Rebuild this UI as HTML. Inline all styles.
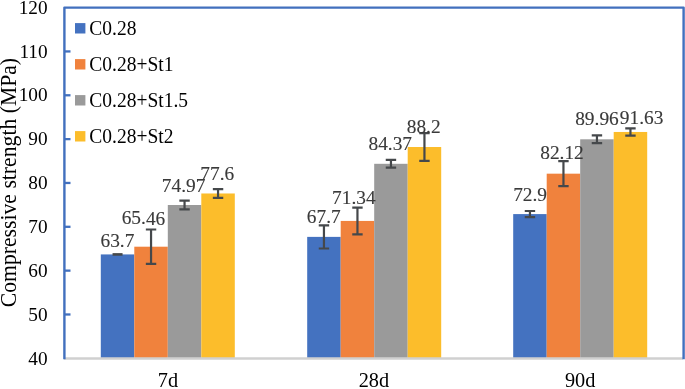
<!DOCTYPE html>
<html><head><meta charset="utf-8"><style>
html,body{margin:0;padding:0;background:#fff;width:685px;height:389px;overflow:hidden;font-family:"Liberation Serif",serif;}
svg{display:block;will-change:transform}
</style></head><body>
<svg width="685" height="389" viewBox="0 0 685 389">
<rect width="685" height="389" fill="#fff"/>
<g id="bars">
<rect x="100.80" y="254.42" width="33.5" height="104.08" fill="#4472C0"/>
<rect x="134.30" y="246.70" width="33.5" height="111.80" fill="#F0823D"/>
<rect x="167.80" y="205.01" width="33.5" height="153.49" fill="#9A9A9A"/>
<rect x="201.30" y="193.48" width="33.5" height="165.02" fill="#FCBD2B"/>
<rect x="307.20" y="236.88" width="33.5" height="121.62" fill="#4472C0"/>
<rect x="340.70" y="220.93" width="33.5" height="137.57" fill="#F0823D"/>
<rect x="374.20" y="163.80" width="33.5" height="194.70" fill="#9A9A9A"/>
<rect x="407.70" y="147.01" width="33.5" height="211.49" fill="#FCBD2B"/>
<rect x="513.20" y="214.09" width="33.5" height="144.41" fill="#4472C0"/>
<rect x="546.70" y="173.67" width="33.5" height="184.83" fill="#F0823D"/>
<rect x="580.20" y="139.30" width="33.5" height="219.20" fill="#9A9A9A"/>
<rect x="613.70" y="131.97" width="33.5" height="226.53" fill="#FCBD2B"/>
</g><g id="err">
<rect x="112.55" y="253.12" width="10" height="2.6" fill="#45484B"/>
<path d="M151.05 229.50V263.90M145.85 229.50H156.25M145.85 263.90H156.25" stroke="#45484B" stroke-width="2.2" fill="none"/>
<path d="M184.55 200.61V209.41M179.35 200.61H189.75M179.35 209.41H189.75" stroke="#45484B" stroke-width="2.2" fill="none"/>
<path d="M218.05 189.08V197.88M212.85 189.08H223.25M212.85 197.88H223.25" stroke="#45484B" stroke-width="2.2" fill="none"/>
<path d="M323.95 225.28V248.48M318.75 225.28H329.15M318.75 248.48H329.15" stroke="#45484B" stroke-width="2.2" fill="none"/>
<path d="M357.45 207.53V234.33M352.25 207.53H362.65M352.25 234.33H362.65" stroke="#45484B" stroke-width="2.2" fill="none"/>
<path d="M390.95 159.90V167.70M385.75 159.90H396.15M385.75 167.70H396.15" stroke="#45484B" stroke-width="2.2" fill="none"/>
<path d="M424.45 133.21V160.81M419.25 133.21H429.65M419.25 160.81H429.65" stroke="#45484B" stroke-width="2.2" fill="none"/>
<path d="M529.95 210.99V217.19M524.75 210.99H535.15M524.75 217.19H535.15" stroke="#45484B" stroke-width="2.2" fill="none"/>
<path d="M563.45 161.17V186.17M558.25 161.17H568.65M558.25 186.17H568.65" stroke="#45484B" stroke-width="2.2" fill="none"/>
<path d="M596.95 135.40V143.20M591.75 135.40H602.15M591.75 143.20H602.15" stroke="#45484B" stroke-width="2.2" fill="none"/>
<path d="M630.45 128.37V135.57M625.25 128.37H635.65M625.25 135.57H635.65" stroke="#45484B" stroke-width="2.2" fill="none"/>
</g><g id="frame">
<path d="M64 358.5H683" stroke="#D0D0D0" stroke-width="2.5"/>
<path d="M64.4 359.2V7.6H683.6V359.2" stroke="#4270BE" stroke-width="2.4" fill="none" stroke-linejoin="round"/>
<path d="M64.5 314.48H70.5" stroke="#4270BE" stroke-width="2.3"/>
<path d="M64.5 270.64H70.5" stroke="#4270BE" stroke-width="2.3"/>
<path d="M64.5 226.80H70.5" stroke="#4270BE" stroke-width="2.3"/>
<path d="M64.5 182.96H70.5" stroke="#4270BE" stroke-width="2.3"/>
<path d="M64.5 139.12H70.5" stroke="#4270BE" stroke-width="2.3"/>
<path d="M64.5 95.28H70.5" stroke="#4270BE" stroke-width="2.3"/>
<path d="M64.5 51.44H70.5" stroke="#4270BE" stroke-width="2.3"/>
</g><g id="ylab">
<text font-family="Liberation Serif, serif" font-size="19.3" text-anchor="end" fill="#000" transform="translate(47.60 364.52) rotate(0.01) scale(1.0 1)">40</text>
<text font-family="Liberation Serif, serif" font-size="19.3" text-anchor="end" fill="#000" transform="translate(47.60 320.68) rotate(0.01) scale(1.0 1)">50</text>
<text font-family="Liberation Serif, serif" font-size="19.3" text-anchor="end" fill="#000" transform="translate(47.60 276.84) rotate(0.01) scale(1.0 1)">60</text>
<text font-family="Liberation Serif, serif" font-size="19.3" text-anchor="end" fill="#000" transform="translate(47.60 233.00) rotate(0.01) scale(1.0 1)">70</text>
<text font-family="Liberation Serif, serif" font-size="19.3" text-anchor="end" fill="#000" transform="translate(47.60 189.16) rotate(0.01) scale(1.0 1)">80</text>
<text font-family="Liberation Serif, serif" font-size="19.3" text-anchor="end" fill="#000" transform="translate(47.60 145.32) rotate(0.01) scale(1.0 1)">90</text>
<text font-family="Liberation Serif, serif" font-size="19.3" text-anchor="end" fill="#000" transform="translate(47.60 101.48) rotate(0.01) scale(1.0 1)">100</text>
<text font-family="Liberation Serif, serif" font-size="19.3" text-anchor="end" fill="#000" transform="translate(47.60 57.64) rotate(0.01) scale(1.0 1)">110</text>
<text font-family="Liberation Serif, serif" font-size="19.3" text-anchor="end" fill="#000" transform="translate(47.60 13.80) rotate(0.01) scale(1.0 1)">120</text>
</g><g id="xlab">
<text font-family="Liberation Serif, serif" font-size="20.3" text-anchor="middle" fill="#000" transform="translate(168.00 387.40) rotate(0.01) scale(1 1)">7d</text>
<text font-family="Liberation Serif, serif" font-size="20.3" text-anchor="middle" fill="#000" transform="translate(373.90 387.40) rotate(0.01) scale(1 1)">28d</text>
<text font-family="Liberation Serif, serif" font-size="20.3" text-anchor="middle" fill="#000" transform="translate(580.10 387.40) rotate(0.01) scale(1 1)">90d</text>
</g><g id="dlab">
<text id="L00" font-family="Liberation Serif, serif" font-size="19" text-anchor="middle" fill="#3a3a3a" transform="translate(117.40 247.40) rotate(0.01) scale(1.02 1)" stroke="#3a3a3a" stroke-width="0.12">63.7</text>
<text id="L01" font-family="Liberation Serif, serif" font-size="19" text-anchor="middle" fill="#3a3a3a" transform="translate(143.45 224.50) rotate(0.01) scale(1.02 1)" stroke="#3a3a3a" stroke-width="0.12">65.46</text>
<text id="L02" font-family="Liberation Serif, serif" font-size="19" text-anchor="middle" fill="#3a3a3a" transform="translate(183.55 191.80) rotate(0.01) scale(1.02 1)" stroke="#3a3a3a" stroke-width="0.12">74.97</text>
<text id="L03" font-family="Liberation Serif, serif" font-size="19" text-anchor="middle" fill="#3a3a3a" transform="translate(217.25 179.90) rotate(0.01) scale(1.02 1)" stroke="#3a3a3a" stroke-width="0.12">77.6</text>
<text id="L10" font-family="Liberation Serif, serif" font-size="19" text-anchor="middle" fill="#3a3a3a" transform="translate(323.70 223.10) rotate(0.01) scale(1.02 1)" stroke="#3a3a3a" stroke-width="0.12">67.7</text>
<text id="L11" font-family="Liberation Serif, serif" font-size="19" text-anchor="middle" fill="#3a3a3a" transform="translate(353.90 204.40) rotate(0.01) scale(1.02 1)" stroke="#3a3a3a" stroke-width="0.12">71.34</text>
<text id="L12" font-family="Liberation Serif, serif" font-size="19" text-anchor="middle" fill="#3a3a3a" transform="translate(390.25 150.10) rotate(0.01) scale(1.02 1)" stroke="#3a3a3a" stroke-width="0.12">84.37</text>
<text id="L13" font-family="Liberation Serif, serif" font-size="19" text-anchor="middle" fill="#3a3a3a" transform="translate(423.65 133.10) rotate(0.01) scale(1.02 1)" stroke="#3a3a3a" stroke-width="0.12">88.2</text>
<text id="L20" font-family="Liberation Serif, serif" font-size="19" text-anchor="middle" fill="#3a3a3a" transform="translate(530.10 200.90) rotate(0.01) scale(1.02 1)" stroke="#3a3a3a" stroke-width="0.12">72.9</text>
<text id="L21" font-family="Liberation Serif, serif" font-size="19" text-anchor="middle" fill="#3a3a3a" transform="translate(562.00 159.30) rotate(0.01) scale(1.02 1)" stroke="#3a3a3a" stroke-width="0.12">82.12</text>
<text id="L22" font-family="Liberation Serif, serif" font-size="19" text-anchor="middle" fill="#3a3a3a" transform="translate(596.95 125.40) rotate(0.01) scale(1.02 1)" stroke="#3a3a3a" stroke-width="0.12">89.96</text>
<text id="L23" font-family="Liberation Serif, serif" font-size="19" text-anchor="middle" fill="#3a3a3a" transform="translate(641.55 123.80) rotate(0.01) scale(1.02 1)" stroke="#3a3a3a" stroke-width="0.12">91.63</text>
</g><g id="leg">
<rect x="75" y="23.10" width="10.4" height="10.4" fill="#4472C0"/>
<text font-family="Liberation Serif, serif" font-size="20" text-anchor="start" fill="#000" transform="translate(89.30 34.60) rotate(0.01) scale(0.975 1)">C0.28</text>
<rect x="75" y="59.10" width="10.4" height="10.4" fill="#F0823D"/>
<text font-family="Liberation Serif, serif" font-size="20" text-anchor="start" fill="#000" transform="translate(89.30 70.60) rotate(0.01) scale(0.975 1)">C0.28+St1</text>
<rect x="75" y="95.10" width="10.4" height="10.4" fill="#9A9A9A"/>
<text font-family="Liberation Serif, serif" font-size="20" text-anchor="start" fill="#000" transform="translate(89.30 106.60) rotate(0.01) scale(0.975 1)">C0.28+St1.5</text>
<rect x="75" y="131.10" width="10.4" height="10.4" fill="#FCBD2B"/>
<text font-family="Liberation Serif, serif" font-size="20" text-anchor="start" fill="#000" transform="translate(89.30 142.60) rotate(0.01) scale(0.975 1)">C0.28+St2</text>
</g><g id="title">
<text transform="translate(16.3 182.6) rotate(-90.01) scale(0.9435 1)" font-family="Liberation Serif, serif" font-size="23.0" text-anchor="middle" fill="#000">Compressive strength (MPa)</text>
</g></svg>
</body></html>
